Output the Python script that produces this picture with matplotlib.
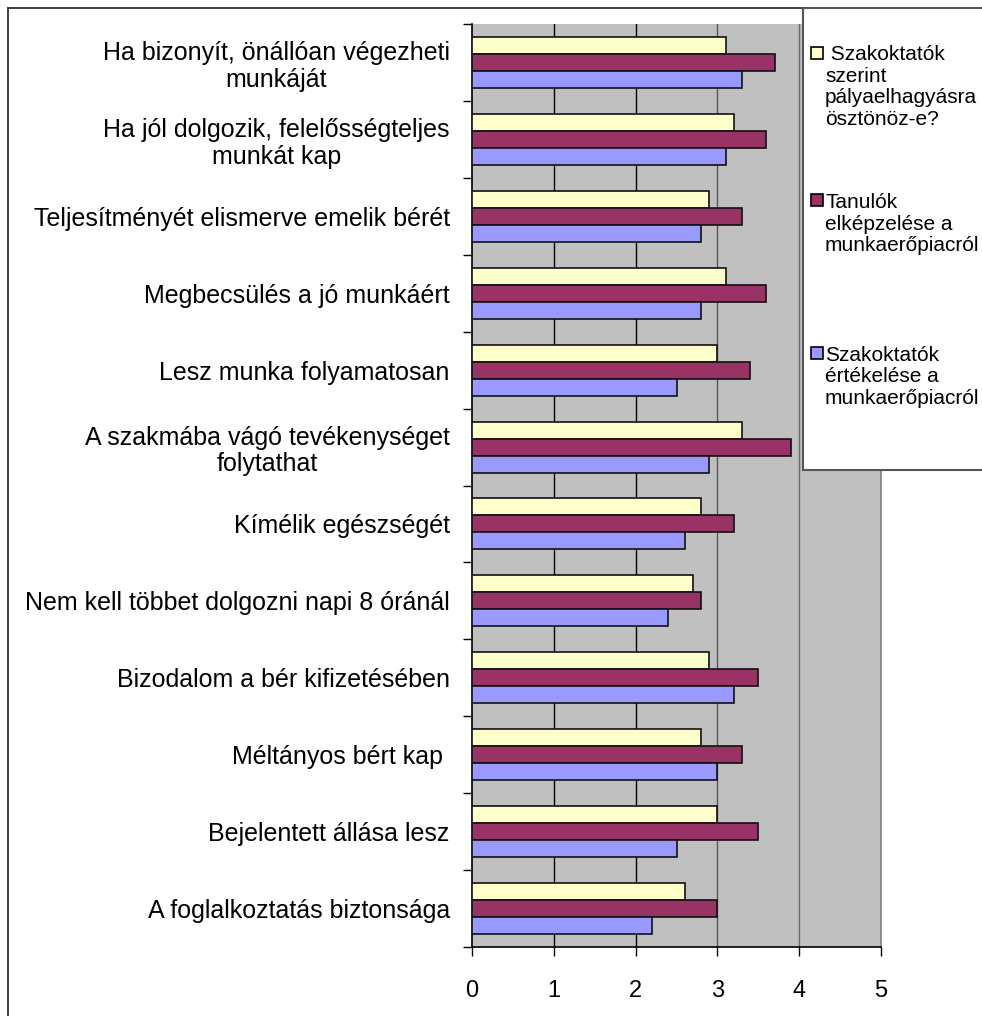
"""
Pályaelhagyás / munkaerőpiac – vízszintes oszlopdiagram (három sorozat)
"""
import matplotlib
matplotlib.use("Agg")
import matplotlib.pyplot as plt
import numpy as np
from matplotlib.lines import Line2D
from matplotlib.patches import Rectangle

plt.rcParams["font.family"] = ["Liberation Sans", "DejaVu Sans"]

categories = [
    "Ha bizonyít, önállóan végezheti\nmunkáját",
    "Ha jól dolgozik, felelősségteljes\nmunkát kap",
    "Teljesítményét elismerve emelik bérét",
    "Megbecsülés a jó munkáért",
    "Lesz munka folyamatosan",
    "A szakmába vágó tevékenységet\nfolytathat",
    "Kímélik egészségét",
    "Nem kell többet dolgozni napi 8 óránál",
    "Bizodalom a bér kifizetésében",
    "Méltányos bért kap ",
    "Bejelentett állása lesz",
    "A foglalkoztatás biztonsága",
]
szakoktatok_palya = [3.1, 3.2, 2.9, 3.1, 3.0, 3.3, 2.8, 2.7, 2.9, 2.8, 3.0, 2.6]
tanulok = [3.7, 3.6, 3.3, 3.6, 3.4, 3.9, 3.2, 2.8, 3.5, 3.3, 3.5, 3.0]
szakoktatok_ertek = [3.3, 3.1, 2.8, 2.8, 2.5, 2.9, 2.6, 2.4, 3.2, 3.0, 2.5, 2.2]

series_labels = [
    " Szakoktatók\nszerint\npályaelhagyásra\nösztönöz-e?",
    "Tanulók\nelképzelése a\nmunkaerőpiacról",
    "Szakoktatók\nértékelése a\nmunkaerőpiacról",
]
series_colors = ["#FFFFCC", "#993366", "#9999FF"]
x_ticks = [0, 1, 2, 3, 4, 5]

W, H = 982, 1016


def fx(px):
    return px / W


def fy(py):
    return 1 - py / H


fig = plt.figure(figsize=(W / 100, H / 100), dpi=100)
ax = fig.add_axes([fx(472), fy(947), (881 - 472) / W, (947 - 24) / H])
ax.set_facecolor("#C0C0C0")

y = np.arange(len(categories))
h = 0.221
for k, vals in enumerate([szakoktatok_palya, tanulok, szakoktatok_ertek]):
    ax.barh(y + (k - 1) * h, vals, height=h, color=series_colors[k],
            edgecolor="#111111", linewidth=1.2, zorder=3)

ax.set_xlim(0, 5)
ax.set_ylim(len(categories) - 0.5, -0.5)

# függőleges rácsvonalak
grid_colors = {1: "#000000", 2: "#000000", 3: "#555555", 4: "#6a6a6a"}
for xv, c in grid_colors.items():
    ax.axvline(xv, color=c, lw=1.0, zorder=1)

ax.spines["top"].set_visible(False)
ax.spines["right"].set_color("#808080")
ax.spines["right"].set_linewidth(1.2)
ax.spines["left"].set_linewidth(1.2)
ax.spines["bottom"].set_linewidth(1.2)

ax.set_xticks(x_ticks)
ax.set_xticklabels([str(v) for v in x_ticks], fontsize=17)
ax.tick_params(axis="x", length=6.5, width=1, pad=17, direction="out")

ax.set_yticks(np.arange(-0.5, len(categories)), minor=False)
ax.set_yticklabels([], minor=False)
ax.set_yticks(y, minor=True)
ax.set_yticklabels(categories, minor=True, fontsize=18)
ax.tick_params(axis="y", which="major", length=6.5, width=1, direction="out")
ax.tick_params(axis="y", which="minor", length=0, pad=16)
for t in ax.get_yticklabels(minor=True):
    t.set_multialignment("center")
    t.set_linespacing(1.15)

# külső keret
fig.add_artist(Line2D([fx(8), 1.0], [fy(8), fy(8)], color="#333333", lw=1.3))
fig.add_artist(Line2D([fx(8), fx(8)], [fy(8), 0.0], color="#333333", lw=1.3))

# jelmagyarázat
fig.add_artist(Rectangle((fx(803), fy(470)), (990 - 803) / W, (470 - 8) / H,
                         facecolor="white", edgecolor="#555555", lw=1.5,
                         zorder=5))
marker_y = [53, 200, 353]
block_center = [87, 224, 377]
for k in range(3):
    fig.add_artist(Rectangle((fx(811), fy(marker_y[k] + 6)), 12 / W, 12 / H,
                             facecolor=series_colors[k], edgecolor="black",
                             lw=1.2, zorder=6))
    fig.text(fx(825), fy(block_center[k]), series_labels[k], fontsize=15,
             va="center", ha="left", linespacing=1.17, zorder=7)

fig.savefig("out.png", dpi=100)
